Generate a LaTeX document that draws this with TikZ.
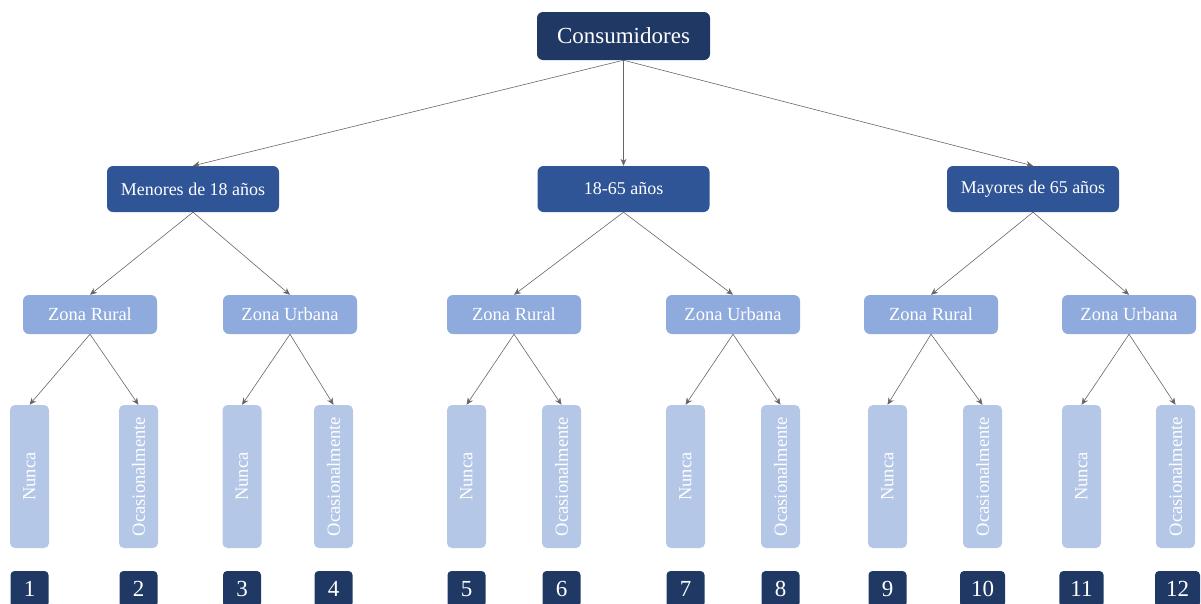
\documentclass[tikz,border=0pt]{standalone}
\usepackage{fontspec}
\setmainfont{Liberation Serif}
\definecolor{navyclr}{HTML}{203864}
\definecolor{midblue}{HTML}{2F5597}
\definecolor{zoneblue}{HTML}{8FAADC}
\definecolor{leafblue}{HTML}{B4C7E7}
\usetikzlibrary{positioning,arrows.meta}

\begin{document}
\begin{tikzpicture}[
  x=1pt, y=-1pt,
  every node/.style={text=white},
  box/.style={rectangle, rounded corners=6pt, align=center, inner sep=0pt},
  top/.style={box, fill=navyclr, minimum width=173pt, minimum height=48pt,
              font=\fontsize{23}{26}\selectfont},
  age/.style={box, fill=midblue, minimum width=172pt, minimum height=46pt,
              font=\fontsize{18}{21}\selectfont},
  zone/.style={box, fill=zoneblue, minimum width=134pt, minimum height=39pt,
               font=\fontsize{18.5}{21}\selectfont},
  leaf/.style={box, rounded corners=5pt, fill=leafblue, minimum width=39pt,
               minimum height=143pt, font=\fontsize{18.5}{21}\selectfont},
  num/.style={box, rounded corners=4pt, fill=navyclr, minimum width=38pt,
              minimum height=36pt, inner xsep=11pt,
              font=\fontsize{23}{26}\selectfont},
  arr/.style={-{Stealth[length=7pt,width=6pt]}, color=black!60, line width=0.6pt}
]
  \useasboundingbox (0,0) rectangle (1201,603);

  % top and age groups
  \node[top] (cons) at (623.5, 36) {Consumidores};
  \node[age] (men) at (193, 189) {Menores de 18 años};
  \node[age] (mid) at (623.5, 189) {18-65 años};
  \node[age] (may) at (1033, 189) {Mayores de 65 años};

  % zones
  \node[zone] (zr1) at (90, 314.5)   {Zona Rural};
  \node[zone] (zu1) at (290, 314.5)  {Zona Urbana};
  \node[zone] (zr2) at (514, 314.5)  {Zona Rural};
  \node[zone] (zu2) at (733, 314.5)  {Zona Urbana};
  \node[zone] (zr3) at (931, 314.5)  {Zona Rural};
  \node[zone] (zu3) at (1129, 314.5) {Zona Urbana};

  \draw[arr] (cons.south) -- (men.north);
  \draw[arr] (cons.south) -- (mid.north);
  \draw[arr] (cons.south) -- (may.north);
  \draw[arr] (men.south) -- (zr1.north);
  \draw[arr] (men.south) -- (zu1.north);
  \draw[arr] (mid.south) -- (zr2.north);
  \draw[arr] (mid.south) -- (zu2.north);
  \draw[arr] (may.south) -- (zr3.north);
  \draw[arr] (may.south) -- (zu3.north);

  % answers and numbers
  \foreach \i/\xn/\xo/\z in {1/29.5/138.5/zr1, 2/242/333.5/zu1,
                             3/466.5/561.5/zr2, 4/685.5/780.5/zu2,
                             5/887.5/982.5/zr3, 6/1081.5/1175.5/zu3} {
    \node[leaf] (n\i) at (\xn, 476.5) {\rotatebox{90}{Nunca}};
    \node[leaf] (o\i) at (\xo, 476.5) {\rotatebox{90}{Ocasionalmente}};
    \draw[arr] (\z.south) -- (n\i.north);
    \draw[arr] (\z.south) -- (o\i.north);
  }
  \foreach \k/\x in {1/29.5, 2/138.5, 3/242, 4/333.5, 5/466.5, 6/561.5,
                     7/685.5, 8/780.5, 9/887.5, 10/982.5, 11/1081.5, 12/1177.5}
    \node[num] (c\k) at (\x, 589) {\k};
\end{tikzpicture}
\end{document}
